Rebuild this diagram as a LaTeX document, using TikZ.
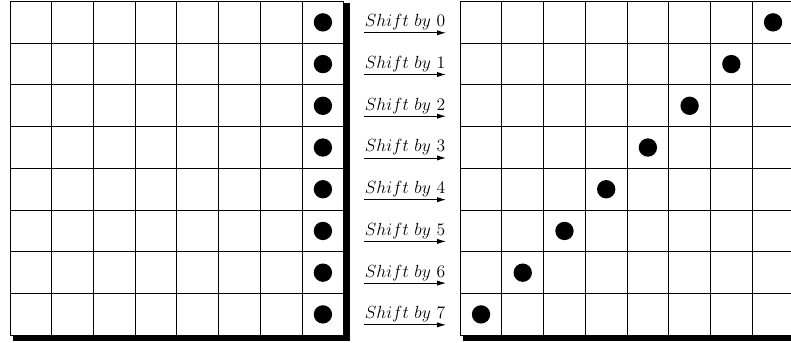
\documentclass[tikz,border=0pt]{standalone}
\usetikzlibrary{positioning, calc, arrows.meta}
\begin{document}
\begin{tikzpicture}[
    griglia/.style={line width=0.6pt},
    ombra/.style={fill=black},
    pallino/.style={circle, fill=black, inner sep=0pt, minimum size=0.44cm},
    freccia/.style={-{Latex[length=6pt,width=3.5pt]}, line width=0.6pt},
    etichetta/.style={above, inner sep=1.5pt, font=\fontsize{12}{14}\selectfont}]
    \useasboundingbox (-0.24,-0.177) rectangle (18.72,8.036);
    %disegno griglia sinistra con ombra
    \fill[ombra] (0.07,-0.13) rectangle (8.14,7.96);
    \fill[white] (0,0) rectangle (8,8);
    \draw[griglia] (0,0) grid (8,8);
    %disegno griglia destra con ombra
    \begin{scope}[xshift=10.79cm]
        \fill[ombra] (0.07,-0.13) rectangle (8.14,7.96);
        \fill[white] (0,0) rectangle (8,8);
        \draw[griglia] (0,0) grid (8,8);
    \end{scope}
    %disegno pallini e frecce
    \foreach \i in {0,...,7}{
        \node[pallino] (L\i) at (7.5,7.5-\i) {};
        \node[pallino] (R\i) at (10.79+7.5-\i,7.5-\i) {};
        \coordinate (s\i) at (8.485,7.25-\i);
        \coordinate (e\i) at (10.45,7.25-\i);
        \draw[freccia] (s\i) -- node[etichetta] (t\i) {$Shift\ by\ \i$} (e\i);
    }
\end{tikzpicture}
\end{document}
